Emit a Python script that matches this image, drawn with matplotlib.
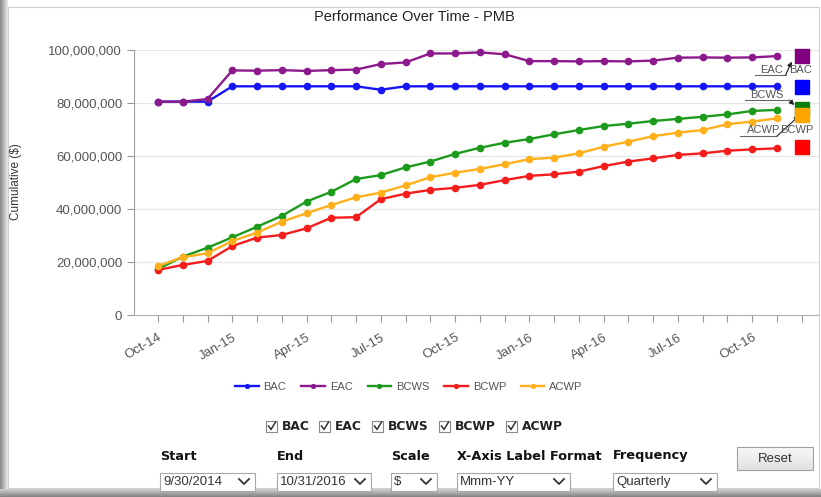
import matplotlib
matplotlib.use('Agg')
import matplotlib.pyplot as plt
from matplotlib.patches import Rectangle
from matplotlib.lines import Line2D
from matplotlib.ticker import FuncFormatter

plt.rcParams['font.family'] = ['Liberation Sans', 'DejaVu Sans']

# monthly periods Oct-14 .. Nov-16 (values in millions of $)
months = ['Oct-14', 'Nov-14', 'Dec-14', 'Jan-15', 'Feb-15', 'Mar-15', 'Apr-15',
          'May-15', 'Jun-15', 'Jul-15', 'Aug-15', 'Sep-15', 'Oct-15', 'Nov-15',
          'Dec-15', 'Jan-16', 'Feb-16', 'Mar-16', 'Apr-16', 'May-16', 'Jun-16',
          'Jul-16', 'Aug-16', 'Sep-16', 'Oct-16', 'Nov-16']
quarter_labels = ['Oct-14', 'Jan-15', 'Apr-15', 'Jul-15', 'Oct-15',
                  'Jan-16', 'Apr-16', 'Jul-16', 'Oct-16']

bac = [80.5, 80.5, 80.5, 86.3, 86.3, 86.3, 86.3, 86.3, 86.3, 85.0, 86.3, 86.3, 86.3,
       86.3, 86.3, 86.3, 86.3, 86.3, 86.3, 86.3, 86.3, 86.3, 86.3, 86.3, 86.3, 86.3]
eac = [80.5, 80.5, 81.5, 92.3, 92.2, 92.4, 92.1, 92.4, 92.6, 94.7, 95.3, 98.7, 98.7,
       99.1, 98.4, 95.8, 95.8, 95.7, 95.8, 95.7, 96.0, 97.1, 97.2, 97.1, 97.2, 97.7]
bcws = [17.4, 22.0, 25.4, 29.3, 33.3, 37.4, 42.8, 46.5, 51.3, 52.8, 55.7, 57.9, 60.8,
        63.1, 65.0, 66.4, 68.2, 69.8, 71.3, 72.2, 73.2, 74.0, 74.8, 75.7, 77.0, 77.4]
bcwp = [17.0, 18.9, 20.4, 26.0, 29.2, 30.2, 32.7, 36.7, 36.9, 43.7, 45.8, 47.2, 48.0,
        49.1, 50.9, 52.5, 53.1, 54.1, 56.2, 57.9, 59.1, 60.4, 61.0, 62.0, 62.5, 62.9]
acwp = [18.5, 21.8, 23.3, 27.9, 31.1, 35.2, 38.4, 41.5, 44.4, 46.2, 48.9, 52.0, 53.7,
        55.1, 56.9, 58.8, 59.4, 61.0, 63.5, 65.4, 67.5, 68.8, 69.8, 72.0, 73.0, 74.2]

# end-of-period square markers
end_names = ['EAC', 'BAC', 'BCWS', 'ACWP', 'BCWP']
end_values = [97.7, 86.0, 77.6, 75.5, 63.4]

series_names = ['BAC', 'EAC', 'BCWS', 'BCWP', 'ACWP']
series_values = [bac, eac, bcws, bcwp, acwp]
line_colors = {'BAC': '#1515f5', 'EAC': '#8c1a8c', 'BCWS': '#1c9a1c',
               'BCWP': '#f51c1c', 'ACWP': '#ffb01a'}
square_colors = {'BAC': '#0000ff', 'EAC': '#800080', 'BCWS': '#0a800a',
                 'BCWP': '#ff0000', 'ACWP': '#ffa500'}

W, H = 821, 497


def fx(x):
    return x / W


def fy(y):
    return 1 - y / H


fig = plt.figure(figsize=(W / 100, H / 100), dpi=100)
fig.patch.set_facecolor('white')

# panel shadow (left and bottom) and frame
for i in range(8):
    g = 0.55 + 0.05 * i
    fig.add_artist(Rectangle((fx(i), 0), fx(1), 1, transform=fig.transFigure,
                             facecolor=(g, g, g), edgecolor='none'))
for i in range(9):
    g = 0.80 - 0.04 * i
    fig.add_artist(Rectangle((0, fy(489 + i + 1)), 1, 1 / H, transform=fig.transFigure,
                             facecolor=(g, g, g), edgecolor='none'))
fig.add_artist(Rectangle((fx(8), fy(488)), fx(811), (488 - 7) / H,
                         transform=fig.transFigure, facecolor='none',
                         edgecolor='#cfcfcf', lw=0.8))

ax = fig.add_axes([fx(134), fy(315), fx(819 - 134), (315 - 50) / H])
x = list(range(len(months)))

for name, vals in zip(series_names, series_values):
    ax.plot(x, vals, color=line_colors[name], lw=1.7, marker='o', ms=4.5,
            label=name, clip_on=False, zorder=3)

x_end = len(months)
for name, val in zip(end_names, end_values):
    ax.plot([x_end], [val], marker='s', ms=9.5, color=square_colors[name],
            linestyle='none', clip_on=False, zorder=4)

ax.set_xlim(-0.97, 26.7)
ax.set_ylim(0, 100)
ax.set_yticks(range(0, 101, 20))
ax.yaxis.set_major_formatter(FuncFormatter(lambda v, p: f'{v * 1e6:,.0f}'))
ax.set_xticks(range(0, x_end + 1))
ax.set_xticklabels([months[i] if (i < len(months) and months[i] in quarter_labels) else ''
                    for i in range(0, x_end + 1)],
                   rotation=30, ha='right', rotation_mode='anchor')
ax.tick_params(axis='both', colors='#999999', labelcolor='#555555', length=5,
               width=0.8, labelsize=9.5)
ax.tick_params(axis='x', pad=7)
ax.grid(axis='y', color='#e6e6e6', lw=0.9)
ax.set_axisbelow(True)
for s in ['top', 'right']:
    ax.spines[s].set_visible(False)
ax.spines['left'].set_color('#a0a0a0')
ax.spines['bottom'].set_color('#b0b0b0')

fig.text(fx(16), fy(182), 'Cumulative ($)', rotation=90, ha='center', va='center',
         fontsize=8.5, color='#333333')
fig.text(fx(414), fy(17), 'Performance Over Time - PMB', ha='center', va='center',
         fontsize=10.5, color='#222222')

# end labels with leader lines
lab = dict(fontsize=8, color='#555555', ha='center', va='center', zorder=5)
ax.text(24.8, 92.6, 'EAC', **lab)
ax.text(25.95, 92.6, 'BAC', **lab)
ax.text(24.6, 83.2, 'BCWS', **lab)
ax.text(24.45, 69.9, 'ACWP', **lab)
ax.text(25.8, 69.9, 'BCWP', **lab)
lead = dict(color='#666666', lw=0.8, clip_on=False, zorder=5)
ax.plot([24.1, 25.35], [90.6, 90.6], **lead)
ax.plot([23.7, 25.5], [81.1, 81.1], **lead)
ax.plot([23.5, 25.0], [67.5, 67.5], **lead)
arr = dict(arrowstyle='-|>', color='#222222', lw=0.8, mutation_scale=7,
           shrinkA=0, shrinkB=0)
ax.annotate('', xy=(25.6, 95.6), xytext=(25.35, 90.6), arrowprops=arr,
            annotation_clip=False)
ax.annotate('', xy=(25.7, 79.2), xytext=(25.5, 81.1), arrowprops=arr,
            annotation_clip=False)
ax.annotate('', xy=(25.9, 75.2), xytext=(25.0, 67.5), arrowprops=arr,
            annotation_clip=False)

# legend
fig.legend(loc='center', bbox_to_anchor=(fx(409), fy(387)), ncol=5, frameon=False,
           fontsize=8, labelcolor='#555555', handlelength=2.1, handletextpad=0.45,
           columnspacing=1.35, markerscale=0.6)

# checkboxes
check_x = [266, 319, 372, 439, 506]
for cx, name in zip(check_x, series_names):
    fig.add_artist(Rectangle((fx(cx), fy(432)), fx(11), 11 / H, transform=fig.transFigure,
                             facecolor='white', edgecolor='#888888', lw=0.8))
    fig.add_artist(Line2D([fx(cx + 2.5), fx(cx + 5), fx(cx + 9.5)],
                          [fy(426), fy(429.5), fy(422)], transform=fig.transFigure,
                          color='#333333', lw=1.1))
    fig.text(fx(cx + 16), fy(427), name, ha='left', va='center', fontsize=8.8,
             fontweight='bold', family='DejaVu Sans', color='#222222')

# controls
ctrl_labels = ['Start', 'End', 'Scale', 'X-Axis Label Format', 'Frequency']
ctrl_values = ['9/30/2014', '10/31/2016', '$', 'Mmm-YY', 'Quarterly']
ctrl_x0 = [160, 277, 391, 457, 613]
ctrl_x1 = [255, 371, 437, 570, 717]
for lbl, val, x0, x1 in zip(ctrl_labels, ctrl_values, ctrl_x0, ctrl_x1):
    fig.text(fx(x0), fy(456), lbl, ha='left', va='center', fontsize=9.3,
             fontweight='bold', family='DejaVu Sans', color='#111111')
    fig.add_artist(Rectangle((fx(x0), fy(491)), fx(x1 - x0), 18 / H,
                             transform=fig.transFigure, facecolor='white',
                             edgecolor='#a8a8a8', lw=0.8))
    fig.text(fx(x0 + 3), fy(482), val, ha='left', va='center', fontsize=9.5,
             color='#333333')
    fig.add_artist(Line2D([fx(x1 - 16), fx(x1 - 11), fx(x1 - 6)],
                          [fy(479), fy(484), fy(479)], transform=fig.transFigure,
                          color='#333333', lw=1.3))

# reset button
for i in range(23):
    g = 0.97 - 0.004 * i
    fig.add_artist(Rectangle((fx(737), fy(447 + i + 1)), fx(76), 1 / H,
                             transform=fig.transFigure, facecolor=(g, g, g),
                             edgecolor='none'))
fig.add_artist(Rectangle((fx(737), fy(470)), fx(76), 23 / H, transform=fig.transFigure,
                         facecolor='none', edgecolor='#a0a0a0', lw=0.8))
fig.text(fx(775), fy(458.5), 'Reset', ha='center', va='center', fontsize=9.5,
         color='#333333')

plt.savefig('out.png', dpi=100)
